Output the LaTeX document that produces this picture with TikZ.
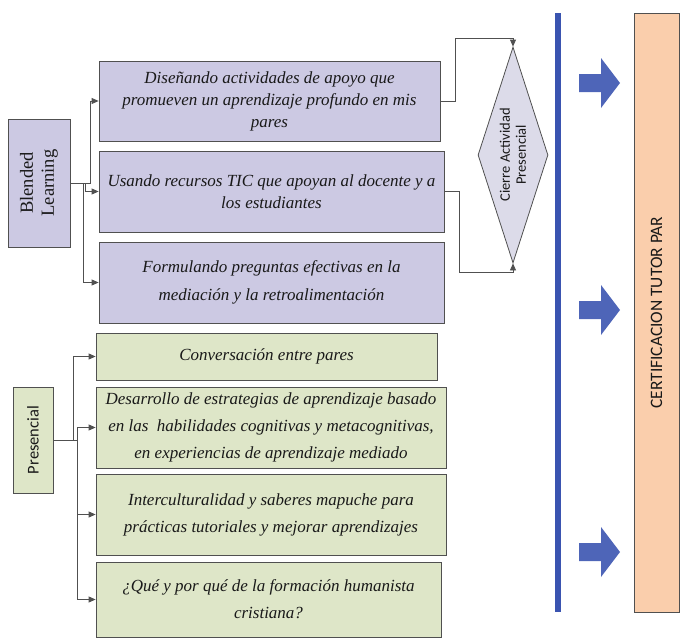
\documentclass[tikz,border=0pt]{standalone}
\usepackage{fontspec}
\newfontfamily\calibri{Carlito}
\newfontfamily\cambria{Liberation Serif}
\usetikzlibrary{arrows.meta,shapes.geometric}

\definecolor{lila}{RGB}{204,201,227}
\definecolor{lilaclaro}{RGB}{220,219,233}
\definecolor{verde}{RGB}{222,230,200}
\definecolor{naranja}{RGB}{250,206,172}
\definecolor{azul}{RGB}{58,84,176}
\definecolor{gris}{RGB}{80,80,80}

\begin{document}
\begin{tikzpicture}[x=1pt,y=-1pt,
    caja/.style={draw=gris, line width=0.8pt, inner sep=0pt, align=center, text=black!90},
    tema/.style={caja, font=\cambria\fontsize{17}{22}\selectfont\itshape},
    flecha/.style={draw=gris, line width=0.8pt, -{Triangle[length=7pt,width=6pt]}},
    bloque/.style={fill=azul!90!white}]
  \useasboundingbox (0,0) rectangle (680,640);

  % Blended learning (rotated: south is the right side)
  \node[caja, fill=lila, rotate=90, minimum width=128pt, minimum height=62pt,
        font=\cambria\fontsize{18.5}{21}\selectfont] (bl) at (39,183) {Blended\\Learning};

  \node[tema, fill=lila, minimum width=341pt, minimum height=80pt] (p1) at (269.5,101)
    {Diseñando actividades de apoyo que\\promueven un aprendizaje profundo en mis\\pares};
  \node[tema, fill=lila, minimum width=345pt, minimum height=81pt] (p2) at (271.5,191.5)
    {Usando recursos TIC que apoyan al docente y a\\los estudiantes};
  \node[tema, fill=lila, minimum width=345pt, minimum height=81pt,
        font=\cambria\fontsize{17}{28}\selectfont\itshape] (p3) at (271.5,282.5)
    {Formulando preguntas efectivas en la\\mediación y la retroalimentación};

  \draw[flecha] (bl.south) -- ++(20,0) |- (p1.west);
  \draw[flecha] (bl.south) -- ++(15,0) |- (p2.west);
  \draw[flecha] (bl.south) -- ++(13,0) |- (p3.west);

  % Presencial
  \node[caja, fill=verde, rotate=90, minimum width=106pt, minimum height=40pt,
        font=\calibri\fontsize{16.5}{18}\selectfont] (pr) at (33,440) {Presencial};

  \node[tema, fill=verde, minimum width=341pt, minimum height=47pt] (g1) at (266.5,356.5)
    {Conversación entre pares};
  \node[tema, fill=verde, minimum width=350pt, minimum height=81pt,
        font=\cambria\fontsize{17}{27}\selectfont\itshape] (g2) at (271,427.5)
    {Desarrollo de estrategias de aprendizaje basado\\en las~ habilidades cognitivas y metacognitivas,\\en experiencias de aprendizaje mediado};
  \node[tema, fill=verde, minimum width=350pt, minimum height=81pt,
        font=\cambria\fontsize{17}{27}\selectfont\itshape] (g3) at (271,514.5)
    {Interculturalidad y saberes mapuche para\\prácticas tutoriales y mejorar aprendizajes};
  \node[tema, fill=verde, minimum width=345pt, minimum height=75pt,
        font=\cambria\fontsize{17}{27}\selectfont\itshape] (g4) at (268.5,599.5)
    {¿Qué y por qué de la formación humanista\\cristiana?};

  \draw[flecha] (pr.south) -- ++(20,0) |- (g1.west);
  \draw[flecha] (pr.south) -- ++(24,0) |- (g2.west);
  \draw[flecha] (pr.south) -- ++(24,0) |- (g3.west);
  \draw[flecha] (pr.south) -- ++(24,0) |- (g4.west);

  % Cierre (rotated: east is the top, west the bottom)
  \node[caja, diamond, aspect=3, fill=lilaclaro, rotate=90, minimum width=216pt,
        minimum height=70pt, font=\calibri\fontsize{14.5}{16}\selectfont] (dia) at (513,155)
    {Cierre Actividad\\Presencial};

  \draw[flecha] (p1.east) -- ++(15,0) |- ([yshift=8pt]dia.east) -- (dia.east);
  \draw[flecha] (p2.east) -- ++(15,0) |- ([yshift=-9pt]dia.west) -- (dia.west);

  % Separator line
  \draw[azul, line width=6pt] (558,13) -- (558,612);

  % Block arrows
  \fill[bloque, shift={(0,83)}] (579,-9) -- (601,-9) -- (601,-25) -- (620,0)
    -- (601,25) -- (601,9) -- (579,9) -- cycle;
  \fill[bloque, shift={(0,310)}] (579,-9) -- (601,-9) -- (601,-25) -- (620,0)
    -- (601,25) -- (601,9) -- (579,9) -- cycle;
  \fill[bloque, shift={(0,552)}] (579,-9) -- (601,-9) -- (601,-25) -- (620,0)
    -- (601,25) -- (601,9) -- (579,9) -- cycle;

  % Certificacion
  \node[caja, fill=naranja, rotate=90, minimum width=599pt, minimum height=45pt,
        font=\calibri\fontsize{17.4}{20}\selectfont] (cert) at (656.5,312.5)
    {CERTIFICACION TUTOR PAR};

\end{tikzpicture}
\end{document}
